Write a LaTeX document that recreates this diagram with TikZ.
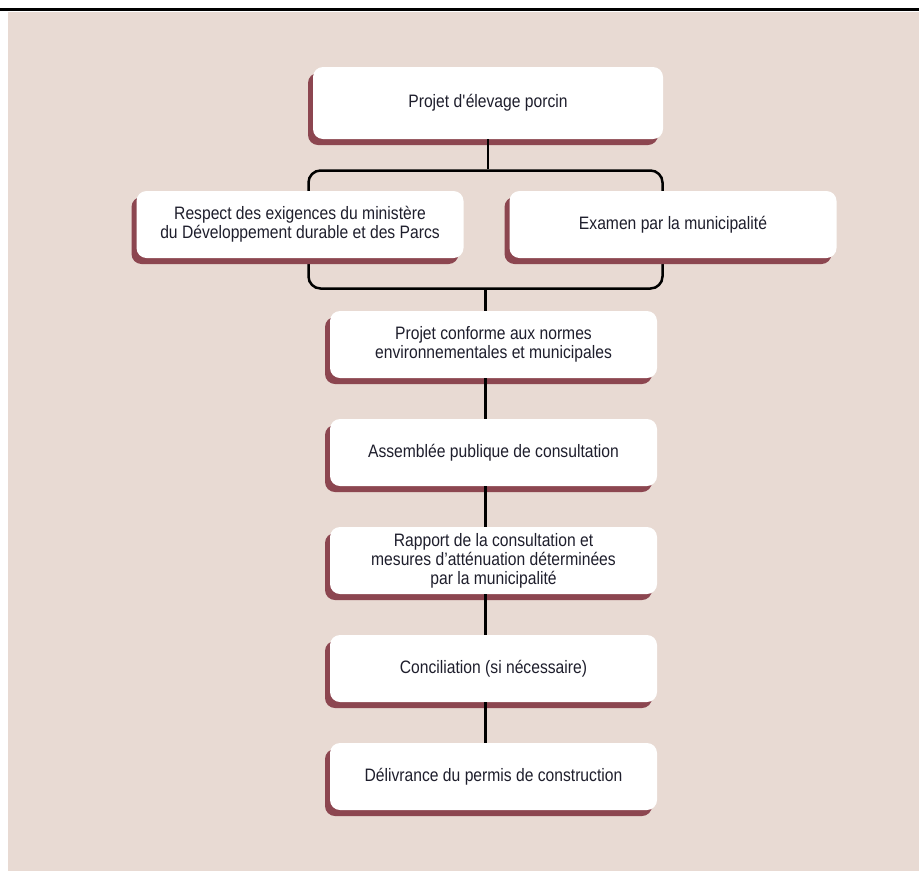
\documentclass[tikz,border=0pt]{standalone}
\usepackage{fontspec}
\setmainfont{Liberation Sans}[FakeStretch=0.87]
\usetikzlibrary{positioning, shadows}

\definecolor{fond}{HTML}{E8DAD3}
\definecolor{ombre}{HTML}{8C4650}
\definecolor{texte}{HTML}{1E1E2C}

\begin{document}
\begin{tikzpicture}[x=1pt, y=-1pt, node distance=108pt,
    etape/.style={fill=white, rounded corners=10pt, align=center, text=texte,
        minimum width=327pt, minimum height=67pt, font=\fontsize{18}{19}\selectfont,
        drop shadow={shadow xshift=-5pt, shadow yshift=-6pt, fill=ombre, opacity=1}},
    lien/.style={line width=2.5pt}]
    \useasboundingbox (0,0) rectangle (919,871);
    \fill [fond] (8,12) rectangle (919,871);
    \draw [line width=3pt] (0,9) -- (919,9);
    %
    \node [lien, draw, rounded corners=12pt, minimum width=354pt, minimum height=118pt] (g) at (485.5,229.5) {};
    %
    \node [etape, minimum width=350pt, minimum height=72pt] (projet) at (488,103) {Projet d\textquotesingle élevage porcin};
    \node [etape] (respect) at (300,224.5) {Respect des exigences du ministère\\du Développement durable et des Parcs};
    \node [etape] (examen) at (673,224.5) {Examen par la municipalité};
    \node [etape] (conforme) at (493.5,344.5) {Projet conforme aux normes\\environnementales et municipales};
    \node [etape, below of=conforme] (assemblee) {Assemblée publique de consultation};
    \node [etape, below of=assemblee] (rapport) {Rapport de la consultation et\\mesures d’atténuation déterminées\\par la municipalité};
    \node [etape, below of=rapport] (conciliation) {Conciliation (si nécessaire)};
    \node [etape, below of=conciliation] (delivrance) {Délivrance du permis de construction};
    %
    \draw [lien] (projet.south) -- (g.north -| projet);
    \draw [lien] (g.south) -- (conforme.north -| g);
    \draw [lien] (conforme.south -| g) -- (assemblee.north -| g);
    \draw [lien] (assemblee.south -| g) -- (rapport.north -| g);
    \draw [lien] (rapport.south -| g) -- (conciliation.north -| g);
    \draw [lien] (conciliation.south -| g) -- (delivrance.north -| g);
\end{tikzpicture}
\end{document}
